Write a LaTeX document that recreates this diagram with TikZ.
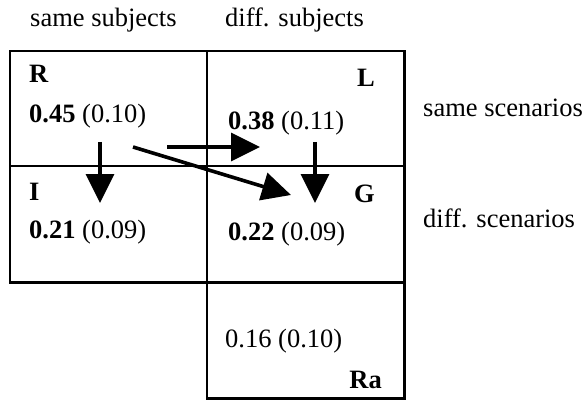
\documentclass[tikz,border=0pt]{standalone}
\usepackage{fontspec}
\setmainfont{Liberation Serif}
\usetikzlibrary{arrows.meta}
\begin{document}
\begin{tikzpicture}[x=1pt,y=-1pt,
  grid/.style={line width=2.4pt,line cap=rect},
  cell/.style={minimum width=197pt,minimum height=116pt,inner sep=0pt,anchor=north west},
  lbl/.style={font=\fontsize{26.5}{30}\selectfont,inner sep=0pt},
  big/.style={-{Triangle[length=29pt,width=28pt]},line width=3.6pt}]
\useasboundingbox (0,0) rectangle (586,401);
% cells (named regions)
\node[cell] (cR) at (10,51) {};
\node[cell] (cL) at (207,51) {};
\node[cell] (cI) at (10,166) {};
\node[cell] (cG) at (207,166) {};
\node[cell] (cRa) at (207,282) {};
% grid lines
\draw[grid] (cR.north west) -- (cL.north east) -- (cRa.south east) -- (cRa.south west) -- (cL.north west);
\draw[grid] (cR.north west) -- (cI.south west) -- (cG.south east);
\draw[grid] (cI.north west) -- (cG.north east);
% headers
\node[lbl,anchor=base west] (hs) at (30,27) {same subjects};
\node[lbl,anchor=base west] (hd) at (225,27) {diff. subjects};
\node[lbl,anchor=base west] (ss) at (423,117) {same scenarios};
\node[lbl,anchor=base west] (ds) at (423,227) {diff. scenarios};
% cell contents
\node[lbl,anchor=base west] (R) at (29,83) {\textbf{R}};
\node[lbl,anchor=base east] (L) at (375,87) {\textbf{L}};
\node[lbl,anchor=base west] (vR) at (29,123) {\textbf{0.45} (0.10)};
\node[lbl,anchor=base west] (vL) at (228,129) {\textbf{0.38} (0.11)};
\node[lbl,anchor=base west] (I) at (29,200) {\textbf{I}};
\node[lbl,anchor=base east] (G) at (375,202) {\textbf{G}};
\node[lbl,anchor=base west] (vI) at (29,238) {\textbf{0.21} (0.09)};
\node[lbl,anchor=base west] (vG) at (228,240) {\textbf{0.22} (0.09)};
\node[lbl,anchor=base west] (vRa) at (225,347) {0.16 (0.10)};
\node[lbl,anchor=base east] (Ra) at (382,388) {\textbf{Ra}};
% arrows
\coordinate (a1s) at (100,142);
\coordinate (a1e) at (100,203);
\coordinate (a2s) at (167,147);
\coordinate (a2e) at (260,147);
\coordinate (a3s) at (315,142);
\coordinate (a3e) at (315,203);
\coordinate (a4s) at (133,147);
\coordinate (a4e) at (291,195);
\draw[big] (a1s) -- (a1e);
\draw[big] (a2s) -- (a2e);
\draw[big] (a3s) -- (a3e);
\draw[big] (a4s) -- (a4e);
\end{tikzpicture}
\end{document}
